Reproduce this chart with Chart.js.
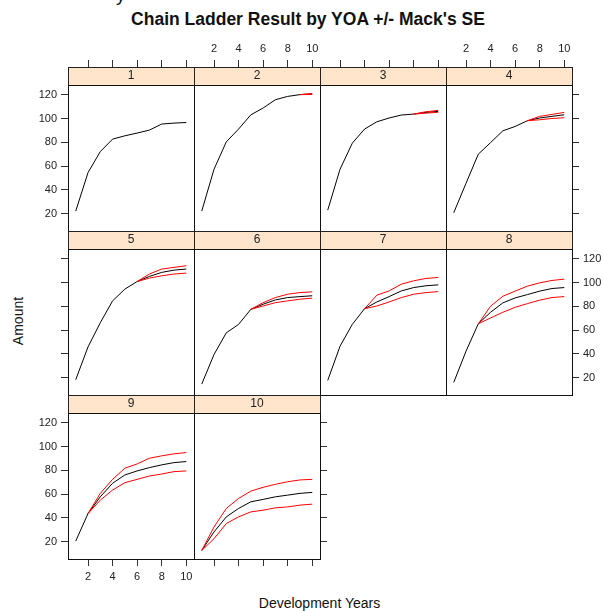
<!DOCTYPE html>
<html lang="en">

<head>
    <meta charset="UTF-8">
    <title>Chain Ladder Result by YOA +/- Mack's SE</title>
    <script src="https://cdn.jsdelivr.net/npm/chart.js"></script>
    <style>
        body { margin: 0; background: #fff; }
        #page { position: relative; width: 603px; height: 611px; overflow: hidden; font-family: "Liberation Sans", Arial, sans-serif; color: #111; }
        #page canvas { position: absolute; }
        .txt { position: absolute; white-space: nowrap; text-align: center; }
        #mainTitle { left: 58px; width: 500px; top: 9px; font-size: 17.5px; font-weight: bold; line-height: 20px; }
        #cutTitle { left: 116px; top: -15px; font-size: 19px; line-height: 20px; }
        #yLabel { left: -32px; top: 313px; width: 100px; font-size: 14px; line-height: 16px; transform: rotate(-90deg); }
        #xLabel { left: 68px; width: 503px; top: 595px; font-size: 14px; line-height: 16px; }
    </style>
</head>

<body>
    <div id="page">
        <div class="txt" id="cutTitle">y</div>
        <div class="txt" id="mainTitle">Chain Ladder Result by YOA +/- Mack's SE</div>
        <div class="txt" id="yLabel">Amount</div>
        <div class="txt" id="xLabel">Development Years</div>
    </div>
</body>

</html>

<script>
    var devYears = [1, 2, 3, 4, 5, 6, 7, 8, 9, 10];
    var yoa = ["1", "2", "3", "4", "5", "6", "7", "8", "9", "10"];
    var xTicks = [2, 4, 6, 8, 10];
    var yTicks = [20, 40, 60, 80, 100, 120];
    var xRange = [0.37, 10.63];
    var yRange = [5.4, 128.4];

    // chain ladder projection per year of account
    var chainLadder = [
        [22.2, 54.6, 72.3, 82.8, 85.6, 87.9, 90.4, 95.5, 96.3, 96.8],
        [22.2, 57.4, 80.5, 91.3, 103.3, 109.0, 116.0, 118.8, 120.3, 120.8],
        [23.0, 57.4, 79.4, 91.3, 97.4, 100.6, 103.1, 103.9, 105.3, 106.2],
        [20.8, 45.6, 70.1, 79.9, 89.8, 93.5, 98.3, 100.6, 102.0, 103.3],
        [18.3, 45.9, 66.3, 84.7, 94.6, 101.0, 105.3, 108.7, 110.6, 111.5],
        [14.6, 39.5, 57.8, 64.9, 77.6, 81.9, 85.5, 87.5, 88.3, 89.0],
        [17.7, 46.5, 64.9, 78.1, 83.8, 88.3, 93.1, 95.9, 97.4, 98.2],
        [16.0, 42.3, 65.4, 75.1, 83.0, 87.2, 90.0, 92.9, 95.1, 95.9],
        [20.5, 43.7, 57.8, 69.2, 76.2, 79.6, 82.4, 84.7, 86.6, 87.5],
        [12.6, 28.2, 40.9, 48.0, 53.6, 55.6, 57.8, 59.2, 60.7, 61.5]
    ];

    // + Mack's SE, starting at the last observed development year
    var upperSE = [
        [null, null, null, null, null, null, null, null, null, null],
        [null, null, null, null, null, null, null, null, 120.3, 121.3],
        [null, null, null, null, null, null, null, 103.9, 105.9, 107.0],
        [null, null, null, null, null, null, 98.3, 102.0, 103.6, 105.3],
        [null, null, null, null, null, 101.0, 107.3, 111.5, 112.9, 114.3],
        [null, null, null, null, 77.6, 83.2, 87.5, 90.3, 91.7, 92.3],
        [null, null, null, 78.1, 89.5, 93.1, 98.8, 101.6, 103.6, 104.4],
        [null, null, 65.4, 80.2, 88.6, 92.9, 97.1, 99.9, 101.9, 103.0],
        [null, 43.7, 60.7, 72.5, 81.9, 85.5, 90.3, 92.3, 94.0, 95.1],
        [12.6, 32.4, 48.0, 56.4, 62.6, 65.8, 68.3, 70.5, 72.0, 72.5]
    ];

    // - Mack's SE
    var lowerSE = [
        [null, null, null, null, null, null, null, null, null, null],
        [null, null, null, null, null, null, null, null, 120.3, 120.4],
        [null, null, null, null, null, null, null, 103.9, 104.7, 105.4],
        [null, null, null, null, null, null, 98.3, 99.1, 100.2, 100.8],
        [null, null, null, null, null, 101.0, 103.9, 105.8, 107.3, 108.1],
        [null, null, null, null, 77.6, 80.4, 83.2, 84.7, 86.1, 87.0],
        [null, null, null, 78.1, 80.4, 83.8, 87.5, 90.3, 91.7, 92.5],
        [null, null, 65.4, 70.3, 75.1, 79.3, 82.4, 85.3, 87.5, 88.3],
        [null, 43.7, 55.0, 63.5, 69.7, 72.5, 75.3, 77.0, 79.0, 79.6],
        [12.6, 22.5, 35.3, 40.9, 45.1, 46.5, 48.5, 49.3, 50.8, 51.6]
    ];

    var MARGIN = 40;
    var STRIP = 18;
    var PANEL_W = 126;
    var PANEL_H = 146;
    var COLS = 4;

    Chart.defaults.font.family = '"Liberation Sans", Arial, sans-serif';
    Chart.defaults.font.size = 11;
    Chart.defaults.color = "#222";

    // peach strip behind the year label, boxed like the panel
    var stripPlugin = {
        id: "strip",
        beforeDraw: function (chart) {
            var t = chart.titleBlock;
            var ctx = chart.ctx;
            ctx.save();
            ctx.fillStyle = "#FFE5CC";
            ctx.fillRect(t.left, t.top, t.width, t.height);
            ctx.strokeStyle = "#222";
            ctx.lineWidth = 1;
            ctx.strokeRect(t.left + 0.5, t.top + 0.5, t.width, t.height);
            ctx.restore();
        },
        afterDraw: function (chart) {
            var a = chart.chartArea;
            var ctx = chart.ctx;
            ctx.save();
            ctx.strokeStyle = "#111";
            ctx.lineWidth = 1;
            ctx.strokeRect(a.left + 0.5, a.top + 0.5, a.right - a.left, a.bottom - a.top);
            ctx.restore();
        }
    };

    function serie(values) {
        var pts = [];
        for (var i = 0; i < devYears.length; i++) {
            pts.push({ x: devYears[i], y: values[i] });
        }
        return pts;
    }

    function eixo(tipo, posicao, marcas, rotulos, lista) {
        var horizontal = tipo === "x";
        return {
            type: "linear",
            position: posicao,
            min: horizontal ? xRange[0] : yRange[0],
            max: horizontal ? xRange[1] : yRange[1],
            afterBuildTicks: function (scale) {
                scale.ticks = lista.map(function (v) { return { value: v }; });
            },
            afterFit: function (scale) {
                if (horizontal) scale.height = MARGIN;
                else scale.width = MARGIN;
            },
            border: { display: false },
            grid: {
                display: marcas,
                drawOnChartArea: false,
                drawTicks: true,
                tickLength: 7,
                color: "#333",
                lineWidth: 1
            },
            ticks: {
                display: rotulos,
                autoSkip: false,
                maxRotation: 0,
                padding: 4,
                color: "#222"
            }
        };
    }

    function desenharPainel(k) {
        var col = k % COLS;
        var row = Math.floor(k / COLS);
        var ultimo = (k === yoa.length - 1) || col === COLS - 1;
        var left = 68 + col * PANEL_W;
        var top = 85 + row * (PANEL_H + STRIP);

        var canvas = document.createElement("canvas");
        canvas.width = PANEL_W + 2 * MARGIN;
        canvas.height = PANEL_H + STRIP + 2 * MARGIN;
        canvas.style.left = (left - MARGIN) + "px";
        canvas.style.top = (top - STRIP - MARGIN) + "px";
        document.getElementById("page").appendChild(canvas);

        new Chart(canvas, {
            type: "line",
            data: {
                datasets: [
                    { data: serie(upperSE[k]), borderColor: "#FF0000" },
                    { data: serie(lowerSE[k]), borderColor: "#FF0000" },
                    { data: serie(chainLadder[k]), borderColor: "#000000" }
                ]
            },
            options: {
                responsive: false,
                animation: false,
                devicePixelRatio: 1,
                layout: { padding: 0 },
                elements: {
                    line: { borderWidth: 1, tension: 0, fill: false },
                    point: { radius: 0, hoverRadius: 0 }
                },
                scales: {
                    x: eixo("x", "bottom", row === 2, row === 2 && col === 0, xTicks),
                    xTop: eixo("x", "top", row === 0, row === 0 && col % 2 === 1, xTicks),
                    y: eixo("y", "left", col === 0, col === 0 && row % 2 === 0, yTicks),
                    yRight: eixo("y", "right", ultimo, ultimo && row === 1, yTicks)
                },
                plugins: {
                    legend: { display: false },
                    tooltip: { enabled: false },
                    title: {
                        display: true,
                        text: yoa[k],
                        position: "top",
                        fullSize: false,
                        weight: -1,
                        padding: 0,
                        color: "#222",
                        font: { size: 12, weight: "normal", lineHeight: "18px" }
                    }
                }
            },
            plugins: [stripPlugin]
        });
    }

    for (var k = 0; k < yoa.length; k++) {
        desenharPainel(k);
    }
</script>
